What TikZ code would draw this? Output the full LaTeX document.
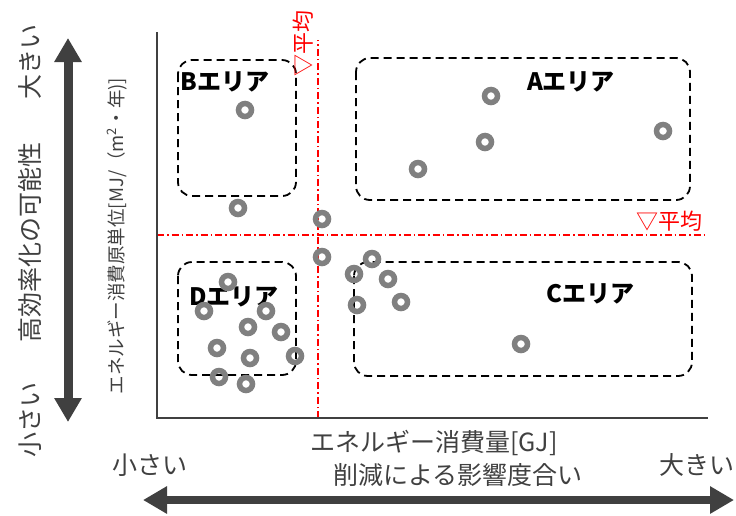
\documentclass[tikz,border=0pt]{standalone}
\usepackage{fontspec}
\setmainfont{Noto Sans CJK JP}
\usetikzlibrary{arrows.meta}
\definecolor{axisgray}{HTML}{404040}
\definecolor{ringgray}{HTML}{808080}
\definecolor{avgred}{HTML}{FF0000}

\begin{document}
\begin{tikzpicture}[x=1pt,y=-1pt]
    \newcommand{\ringsize}[0]{13pt}

    \tikzstyle{axis} = [draw=axisgray,line width=2.5pt]
    \tikzstyle{avg} = [draw=avgred,line width=1.2pt,dash pattern=on 7pt off 3pt on 1.5pt off 3pt]
    \tikzstyle{bigarrow} = [draw=axisgray,line width=9pt,{Triangle[width=26pt,length=24pt]}-{Triangle[width=26pt,length=24pt]}]
    \tikzstyle{area}=[
      draw=black,
      dashed,
      dash pattern=on 8pt off 5pt,
      line width=1.8pt,
      rounded corners=14pt,
    ]
    \tikzstyle{arealabel}=[
      font=\fontsize{24}{26}\selectfont\bfseries,
      text=black,
    ]
    \tikzstyle{ring}=[
      circle,
      draw=ringgray,
      line width=5.5pt,
      minimum size=\ringsize,
      inner sep=0pt,
    ]
    \tikzstyle{side}=[
      font=\fontsize{25}{27}\selectfont,
      text=axisgray,
    ]
    \tikzstyle{avglabel}=[
      font=\fontsize{22}{24}\selectfont,
      text=avgred,
    ]

    \useasboundingbox (0,0) rectangle (736,515);

    \coordinate (origin) at (157,418);
    \coordinate (ytop) at (157,32);
    \coordinate (xend) at (708,418);
    \coordinate (vavgtop) at (318,40);
    \coordinate (vavgbot) at (318,418);
    \coordinate (havgleft) at (157,235);
    \coordinate (havgright) at (708,235);

    \draw[area] (178,60) rectangle (296,196);
    \draw[area] (356,58) rectangle (690,200);
    \draw[area] (178,262) rectangle (296,375);
    \draw[area] (354,262) rectangle (692,376);

    \node[arealabel] (blabel) at (225,82) {Bエリア};
    \node[arealabel] (alabel) at (571,82) {Aエリア};
    \node[arealabel] (dlabel) at (234,297) {Dエリア};
    \node[arealabel] (clabel) at (590,294) {Cエリア};

    \draw[avg] (vavgbot) -- (vavgtop);
    \draw[avg] (havgleft) -- (havgright);

    \foreach \px/\py [count=\i] in {245/110, 491/96, 485/142, 663/131, 418/169,
        238/208, 322/219, 322/257, 354/274, 372/259, 388/279, 357/305, 401/302,
        521/344, 228/282, 204/311, 266/311, 248/327, 281/332, 217/348, 250/358,
        295/356, 219/377, 246/384}
      \node[ring] (pt\i) at (\px,\py) {};

    \draw[axis] (ytop) -- (origin) -- (xend);

    \node[avglabel,rotate=90] (vavg) at (303,43) {▽平均};
    \node[avglabel] (havg) at (669,221) {▽平均};

    \node[font=\fontsize{18.5}{20}\selectfont,text=axisgray,rotate=90] (ylabel) at (117,236)
      {エネルギー消費原単位[MJ/（m\textsuperscript{2}・年)]};
    \node[side] (xlabel) at (434,443) {エネルギー消費量[GJ]};
    \node[side] (xeffect) at (458,475) {削減による影響度合い};
    \node[side] (xsmall) at (150,465) {小さい};
    \node[side] (xlarge) at (697,465) {大きい};

    \node[side,rotate=90] (ylarge) at (30,62) {大きい};
    \node[side,rotate=90] (yeffect) at (30,242) {高効率化の可能性};
    \node[side,rotate=90] (ysmall) at (30,420) {小さい};

    \coordinate (ybigtop) at (68,38);
    \coordinate (ybigbot) at (68,422);
    \coordinate (xbigleft) at (143,500);
    \coordinate (xbigright) at (734,500);
    \draw[bigarrow] (ybigbot) -- (ybigtop);
    \draw[bigarrow,line width=8pt] (xbigleft) -- (xbigright);
  \end{tikzpicture}
\end{document}
